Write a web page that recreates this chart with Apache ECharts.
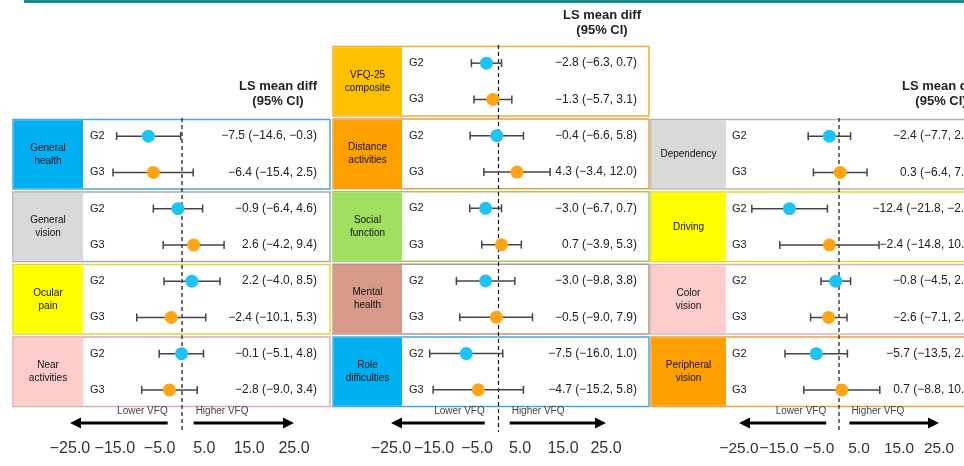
<!DOCTYPE html>
<html>
<head>
<meta charset="utf-8">
<script src="https://cdn.jsdelivr.net/npm/echarts@6/dist/echarts.min.js"></script>
<style>
  html, body { margin: 0; padding: 0; background: #fff; }
  #chart { width: 964px; height: 466px; }
</style>
</head>
<body>
<div id="chart"></div>
<script>
// left column
const scales1 = ["General\nhealth", "General\nvision", "Ocular\npain", "Near\nactivities"];
const g2Mean1 = [-7.5, -0.9, 2.2, -0.1];
const g2Low1 = [-14.6, -6.4, -4.0, -5.1];
const g2High1 = [-0.3, 4.6, 8.5, 4.8];
const g3Mean1 = [-6.4, 2.6, -2.4, -2.8];
const g3Low1 = [-15.4, -4.2, -10.1, -9.0];
const g3High1 = [2.5, 9.4, 5.3, 3.4];

// middle column
const scales2 = ["VFQ-25\ncomposite", "Distance\nactivities", "Social\nfunction", "Mental\nhealth", "Role\ndifficulties"];
const g2Mean2 = [-2.8, -0.4, -3.0, -3.0, -7.5];
const g2Low2 = [-6.3, -6.6, -6.7, -9.8, -16.0];
const g2High2 = [0.7, 5.8, 0.7, 3.8, 1.0];
const g3Mean2 = [-1.3, 4.3, 0.7, -0.5, -4.7];
const g3Low2 = [-5.7, -3.4, -3.9, -9.0, -15.2];
const g3High2 = [3.1, 12.0, 5.3, 7.9, 5.8];

// right column
const scales3 = ["Dependency", "Driving", "Color\nvision", "Peripheral\nvision"];
const g2Mean3 = [-2.4, -12.4, -0.8, -5.7];
const g2Low3 = [-7.7, -21.8, -4.5, -13.5];
const g2High3 = [2.9, -2.9, 2.9, 2.1];
const g3Mean3 = [0.3, -2.4, -2.6, 0.7];
const g3Low3 = [-6.4, -14.8, -7.1, -8.8];
const g3High3 = [7.0, 10.0, 2.0, 10.2];

const groups = ["G2", "G3"];
const xTicks = [-25, -15, -5, 5, 15, 25];
const arrowLabels = ["Lower VFQ", "Higher VFQ"];

const FONT = "Liberation Sans, Arial, sans-serif";
const G2_COLOR = "#1cc3f5";
const G3_COLOR = "#ffa514";

function fmt(v) {
  return (v < 0 ? "\u2212" : "") + Math.abs(v).toFixed(1);
}

const panels = [
  {
    data: { scales: scales1, g2Mean: g2Mean1, g2Low: g2Low1, g2High: g2High1, g3Mean: g3Mean1, g3Low: g3Low1, g3High: g3High1 },
    left: 70, width: 224, top: 118, tickFont: 16,
    boxLeft: 13, labelRight: 83, boxRight: 330, textRight: 317, groupX: 90,
    headerX: 278, headerY: 94,
    fills: ["#00b0f0", "#d9d9d9", "#ffff00", "#ffcccc"],
    borders: ["#4aa8dc", "#ababab", "#d6d640", "#d5aeae"]
  },
  {
    data: { scales: scales2, g2Mean: g2Mean2, g2Low: g2Low2, g2High: g2High2, g3Mean: g3Mean2, g3Low: g3Low2, g3High: g3High2 },
    left: 391, width: 215, top: 45, tickFont: 16,
    boxLeft: 333, labelRight: 402, boxRight: 649, textRight: 637, groupX: 409,
    headerX: 602, headerY: 23,
    fills: ["#ffc000", "#ffa000", "#a0e060", "#d89a88", "#00b0f0"],
    borders: ["#ebae3a", "#e99e45", "#98cc66", "#b8968a", "#4aa8dc"]
  },
  {
    data: { scales: scales3, g2Mean: g2Mean3, g2Low: g2Low3, g2High: g2High3, g3Mean: g3Mean3, g3Low: g3Low3, g3High: g3High3 },
    left: 739, width: 200, top: 118, tickFont: 15.4,
    boxLeft: 651, labelRight: 726, boxRight: 972, textRight: 975, groupX: 732,
    headerX: 941, headerY: 94,
    fills: ["#d9d9d9", "#ffff00", "#ffcccc", "#ffa000"],
    borders: ["#b5b5b5", "#dada30", "#ddb5b5", "#e9a045"]
  }
];

const grids = [];
const xAxes = [];
const yAxes = [];
const series = [];
const graphics = [
  { type: "rect", left: 24, top: 0, shape: { width: 940, height: 3 }, style: { fill: "#178c8c" } }
];

panels.forEach((p, k) => {
  const d = p.data;
  const n = d.scales.length * 2;
  const band = (408 - p.top) / n;

  grids.push({ left: p.left, top: p.top, width: p.width, height: 432 - p.top });

  xAxes.push({
    type: "value",
    gridIndex: k,
    min: -25,
    max: 25,
    interval: 10,
    axisLine: { show: true, lineStyle: { color: "#222", width: 1.5 } },
    axisTick: { show: true, length: 5, customValues: xTicks, lineStyle: { color: "#222", width: 1.5 } },
    axisLabel: {
      customValues: xTicks, formatter: fmt, fontSize: p.tickFont, color: "#333", margin: 9, fontFamily: FONT,
      hideOverlap: false, showMinLabel: true, showMaxLabel: true
    },
    splitLine: { show: false }
  });

  yAxes.push({
    type: "value",
    gridIndex: k,
    inverse: true,
    min: -0.5,
    max: n - 0.5 + 24 / band,
    show: false
  });

  // subscale boxes, labels and value texts
  series.push({
    type: "custom",
    xAxisIndex: k,
    yAxisIndex: k,
    z: 1,
    silent: true,
    data: d.scales.map((s, i) => [0, 2 * i]),
    renderItem(params, api) {
      const i = api.value(1) / 2;
      const top = api.coord([0, 2 * i - 0.5])[1] + 1.5;
      const bottom = api.coord([0, 2 * i + 1.5])[1] - 1.5;
      const ys = [api.coord([0, 2 * i])[1], api.coord([0, 2 * i + 1])[1]];
      const means = [d.g2Mean[i], d.g3Mean[i]];
      const lows = [d.g2Low[i], d.g3Low[i]];
      const highs = [d.g2High[i], d.g3High[i]];
      const children = [
        {
          type: "rect",
          shape: { x: p.boxLeft, y: top, width: p.boxRight - p.boxLeft, height: bottom - top },
          style: { fill: "#fff", stroke: p.borders[i], lineWidth: 1.5 }
        },
        {
          type: "rect",
          shape: { x: p.boxLeft + 0.75, y: top + 0.75, width: p.labelRight - p.boxLeft - 0.75, height: bottom - top - 1.5 },
          style: { fill: p.fills[i] }
        },
        {
          type: "text",
          x: (p.boxLeft + p.labelRight) / 2,
          y: (top + bottom) / 2,
          style: { text: d.scales[i], fill: "#111", font: "10px " + FONT, align: "center", verticalAlign: "middle", lineHeight: 13 }
        }
      ];
      groups.forEach((g, j) => {
        children.push({
          type: "text",
          x: p.groupX,
          y: ys[j],
          style: { text: g, fill: "#222", font: "11px " + FONT, align: "left", verticalAlign: "middle" }
        });
        children.push({
          type: "text",
          x: p.textRight,
          y: ys[j],
          style: {
            text: fmt(means[j]) + " (" + fmt(lows[j]) + ", " + fmt(highs[j]) + ")",
            fill: "#222", font: "12px " + FONT, align: "right", verticalAlign: "middle"
          }
        });
      });
      return { type: "group", children };
    }
  });

  // zero line, direction arrows, header
  series.push({
    type: "custom",
    xAxisIndex: k,
    yAxisIndex: k,
    z: 2,
    silent: true,
    data: [[0, 0]],
    renderItem(params, api) {
      const cs = params.coordSys;
      const x0 = api.coord([0, 0])[0];
      const ay = cs.y + cs.height - 9;
      const xl = api.coord([-25, 0])[0];
      const xli = api.coord([-3.2, 0])[0];
      const xri = api.coord([2.6, 0])[0];
      const xr = api.coord([25, 0])[0];
      return {
        type: "group",
        children: [
          {
            type: "line",
            shape: { x1: x0, y1: cs.y, x2: x0, y2: cs.y + cs.height },
            style: { stroke: "#111", lineWidth: 1.2, lineDash: [4, 3] }
          },
          { type: "line", shape: { x1: xl + 8, y1: ay, x2: xli, y2: ay }, style: { stroke: "#000", lineWidth: 3 } },
          { type: "polygon", shape: { points: [[xl, ay], [xl + 11, ay - 5.5], [xl + 11, ay + 5.5]] }, style: { fill: "#000" } },
          { type: "line", shape: { x1: xri, y1: ay, x2: xr - 8, y2: ay }, style: { stroke: "#000", lineWidth: 3 } },
          { type: "polygon", shape: { points: [[xr, ay], [xr - 11, ay - 5.5], [xr - 11, ay + 5.5]] }, style: { fill: "#000" } },
          {
            type: "text", x: xli, y: ay - 7,
            style: { text: arrowLabels[0], fill: "#444", font: "10px " + FONT, align: "right", verticalAlign: "bottom" }
          },
          {
            type: "text", x: xri + 2, y: ay - 7,
            style: { text: arrowLabels[1], fill: "#444", font: "10px " + FONT, align: "left", verticalAlign: "bottom" }
          },
          {
            type: "text", x: p.headerX, y: p.headerY,
            style: { text: "LS mean diff\n(95% CI)", fill: "#222", font: "bold 13px " + FONT, align: "center", verticalAlign: "middle", lineHeight: 15 }
          }
        ]
      };
    }
  });

  // confidence intervals
  const bars = [];
  d.scales.forEach((s, i) => {
    bars.push([d.g2Low[i], d.g2High[i], 2 * i]);
    bars.push([d.g3Low[i], d.g3High[i], 2 * i + 1]);
  });
  series.push({
    type: "custom",
    xAxisIndex: k,
    yAxisIndex: k,
    z: 3,
    silent: true,
    encode: { x: [0, 1], y: 2 },
    data: bars,
    renderItem(params, api) {
      const a = api.coord([api.value(0), api.value(2)]);
      const b = api.coord([api.value(1), api.value(2)]);
      const style = { stroke: "#444", lineWidth: 1.5 };
      return {
        type: "group",
        children: [
          { type: "line", shape: { x1: a[0], y1: a[1], x2: b[0], y2: b[1] }, style },
          { type: "line", shape: { x1: a[0], y1: a[1] - 4, x2: a[0], y2: a[1] + 4 }, style },
          { type: "line", shape: { x1: b[0], y1: b[1] - 4, x2: b[0], y2: b[1] + 4 }, style }
        ]
      };
    }
  });

  series.push({
    type: "scatter",
    name: "G2",
    xAxisIndex: k,
    yAxisIndex: k,
    z: 4,
    symbolSize: 13,
    itemStyle: { color: G2_COLOR, opacity: 1 },
    data: d.g2Mean.map((m, i) => [m, 2 * i])
  });
  series.push({
    type: "scatter",
    name: "G3",
    xAxisIndex: k,
    yAxisIndex: k,
    z: 4,
    symbolSize: 13,
    itemStyle: { color: G3_COLOR, opacity: 1 },
    data: d.g3Mean.map((m, i) => [m, 2 * i + 1])
  });
});

const chart = echarts.init(document.getElementById("chart"));
chart.setOption({
  animation: false,
  backgroundColor: "#fff",
  grid: grids,
  xAxis: xAxes,
  yAxis: yAxes,
  graphic: graphics,
  series
});
</script>
</body>
</html>
